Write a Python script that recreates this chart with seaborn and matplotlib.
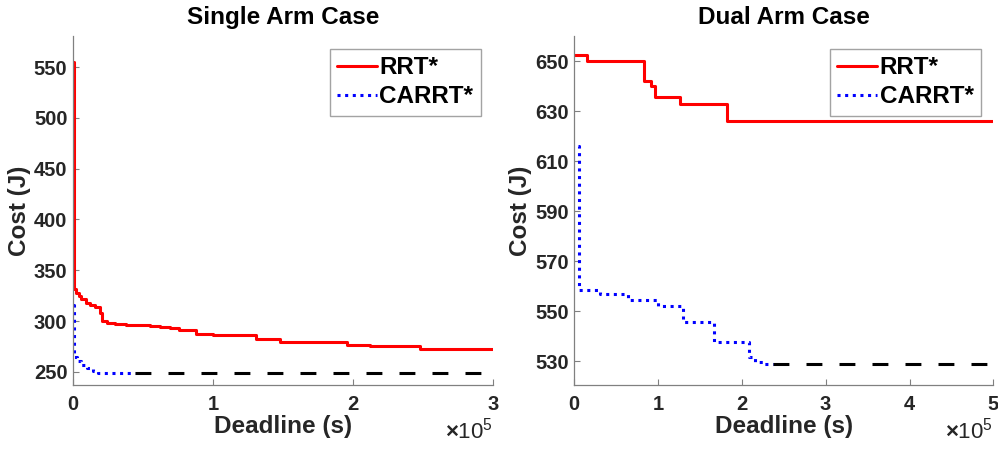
import matplotlib
matplotlib.use("Agg")
import matplotlib.pyplot as plt
import seaborn as sns
import pandas as pd

# Single arm case: deadline (s) vs. cost (J)
rrt_single_t = [0, 500, 2000, 4000, 6000, 9000, 12000, 16000, 19000, 21000, 24000,
                30000, 38000, 46000, 55000, 62000, 69000, 76000, 88000, 100000,
                131000, 148000, 170000, 196000, 212000, 248000, 300000]
rrt_single_c = [555, 332, 328, 325, 322, 318, 316, 314, 308, 300, 298,
                297.5, 296.5, 296, 295, 294.5, 293, 291, 287.5, 286.5,
                282.5, 279.5, 279, 276.5, 275, 272, 272]
carrt_single_t = [0, 800, 3000, 6000, 10000, 14000, 18000, 44000]
carrt_single_c = [316, 265, 261, 257, 254, 251, 249, 249]
best_single_t = [44000, 300000]
best_single_c = [249, 249]

# Dual arm case
rrt_dual_t = [0, 15500, 83000, 92000, 96000, 126000, 182000, 500000]
rrt_dual_c = [652.5, 650, 642, 640, 635.5, 633, 626, 626]
carrt_dual_t = [4500, 5500, 31000, 64000, 100000, 130000, 167000, 208000, 216000, 226000, 237000]
carrt_dual_c = [616, 558.5, 557, 554.5, 552, 545.5, 537.5, 531.5, 529.5, 529, 529]
best_dual_t = [237000, 500000]
best_dual_c = [529, 529]

titles = ["Single Arm Case", "Dual Arm Case"]
series_labels = ["RRT*", "CARRT*"]
single_xticks = [0, 100000, 200000, 300000]
dual_xticks = [0, 100000, 200000, 300000, 400000, 500000]
single_yticks = [250, 300, 350, 400, 450, 500, 550]
dual_yticks = [530, 550, 570, 590, 610, 630, 650]

sns.set_theme(style="white")
plt.rcParams["font.family"] = ["Liberation Sans", "DejaVu Sans"]
plt.rcParams["font.weight"] = "bold"
plt.rcParams["mathtext.fontset"] = "custom"
plt.rcParams["mathtext.rm"] = "Liberation Sans"
plt.rcParams["mathtext.it"] = "Liberation Sans"

fig = plt.figure(figsize=(9.98, 4.51), dpi=100)
ax1 = fig.add_axes([0.0731, 0.1463, 0.4208, 0.7738])
ax2 = fig.add_axes([0.5755, 0.1463, 0.4198, 0.7738])

LW = 2.2
AXIS_GRAY = "#808080"
TEXT_DARK = "#262626"

panels = [
    (ax1, rrt_single_t, rrt_single_c, carrt_single_t, carrt_single_c,
     best_single_t, best_single_c, (0, 300000), (237, 580.5), single_xticks, single_yticks),
    (ax2, rrt_dual_t, rrt_dual_c, carrt_dual_t, carrt_dual_c,
     best_dual_t, best_dual_c, (0, 500000), (520.4, 660), dual_xticks, dual_yticks),
]

for i, (ax, rt, rc, ct, cc, bt, bc, xlim, ylim, xticks, yticks) in enumerate(panels):
    sns.lineplot(data=pd.DataFrame({"t": rt, "c": rc}), x="t", y="c", ax=ax,
                 estimator=None, color="#ff0000", linewidth=LW,
                 drawstyle="steps-post", label=series_labels[0])
    sns.lineplot(data=pd.DataFrame({"t": ct, "c": cc}), x="t", y="c", ax=ax,
                 estimator=None, color="#0000ff", linewidth=LW,
                 linestyle=(0, (1, 1.5)), dash_capstyle="butt",
                 drawstyle="steps-post", label=series_labels[1])
    sns.lineplot(data=pd.DataFrame({"t": bt, "c": bc}), x="t", y="c", ax=ax,
                 estimator=None, color="black", linewidth=LW,
                 linestyle=(0, (5.2, 5.6)), dash_capstyle="butt")

    ax.set_xlim(*xlim)
    ax.set_ylim(*ylim)
    ax.set_xticks(xticks)
    ax.set_yticks(yticks)
    ax.ticklabel_format(axis="x", style="sci", scilimits=(0, 0), useMathText=True)
    off = ax.xaxis.get_offset_text()
    off.set_fontsize(16)
    off.set_fontweight("normal")
    off.set_color(TEXT_DARK)

    for side in ("top", "right"):
        ax.spines[side].set_visible(False)
    for side in ("left", "bottom"):
        ax.spines[side].set_color(AXIS_GRAY)
        ax.spines[side].set_linewidth(0.9)

    ax.tick_params(axis="both", direction="in", length=4, width=0.8,
                   color=AXIS_GRAY, labelsize=14.5, labelcolor=TEXT_DARK)
    ax.tick_params(axis="x", pad=7, bottom=True)
    ax.tick_params(axis="y", pad=4, left=True)
    for lab in ax.get_xticklabels() + ax.get_yticklabels():
        lab.set_fontweight("bold")

    ax.set_xlabel("Deadline (s)", fontsize=17.5, fontweight="bold", color=TEXT_DARK, labelpad=1)
    ax.set_ylabel("Cost (J)", fontsize=17.5, fontweight="bold", color=TEXT_DARK, labelpad=2)
    ax.set_title(titles[i], fontsize=17.5, fontweight="bold", color="black", pad=9)

    handles, labels = ax.get_legend_handles_labels()
    leg = ax.legend(handles[:2], labels[:2], loc="upper right",
                    bbox_to_anchor=(0.971, 0.963), borderaxespad=0,
                    prop={"size": 17.5, "weight": "bold"},
                    handlelength=1.65, handletextpad=0.1, labelspacing=0.25,
                    borderpad=0.3, frameon=True, fancybox=False)
    leg.get_frame().set_edgecolor("#8c8c8c")
    leg.get_frame().set_linewidth(1.0)
    for t in leg.get_texts():
        t.set_color("black")

fig.savefig("out.png", dpi=100)
